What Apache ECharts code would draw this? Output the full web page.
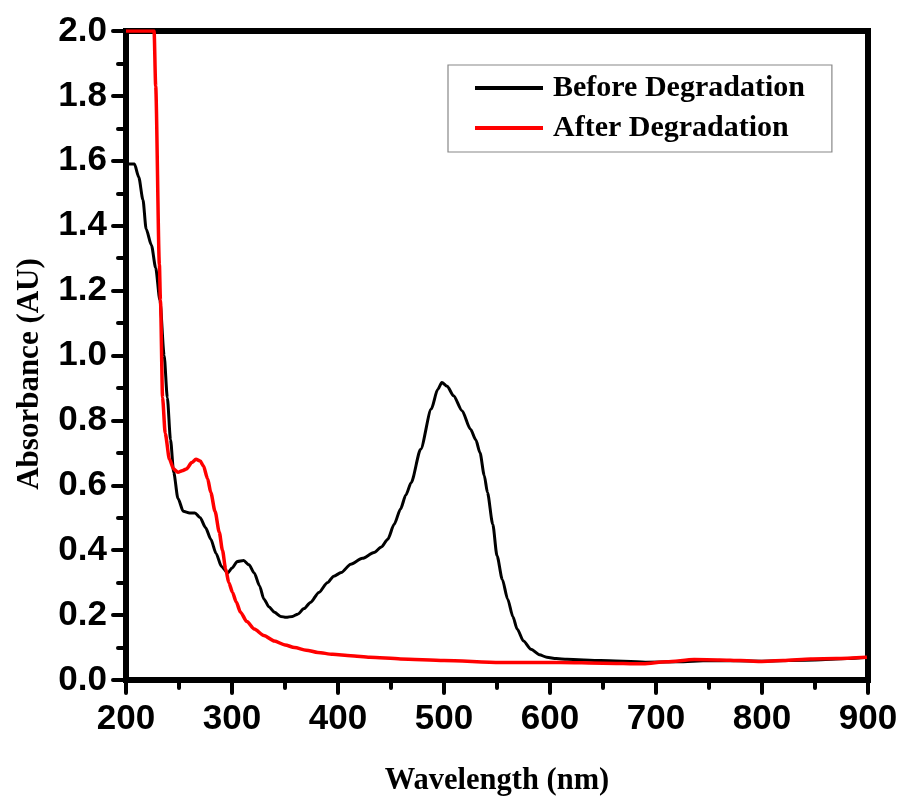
<!DOCTYPE html>
<html>
<head>
<meta charset="utf-8">
<script src="https://cdn.jsdelivr.net/npm/echarts@6/dist/echarts.min.js"></script>
<style>html,body{margin:0;padding:0;background:#fff}#c{width:898px;height:801px}</style>
</head>
<body>
<div id="c"></div>
<script>
// ---- data ----
var beforeWl = [200,208,212,216,219,224,228,232,236,239,242,245,249,254,260,265,270,275,280,285,290,296,300,305,311,316,321,326,330,335,340,346,351,357,362,368,374,382,390,396,403,412,423,434,441,447,453,459,464,469,478,488,494,498,503,509,517,525,530,534,538,541,546,550,555,560,565,569,575,582,590,597,606,616,648,690,720,750,800,850,880,900];
var beforeAbs = [1.59,1.59,1.55,1.48,1.39,1.34,1.27,1.17,1.00,0.87,0.74,0.64,0.56,0.52,0.515,0.515,0.50,0.47,0.434,0.39,0.35,0.33,0.345,0.365,0.368,0.355,0.33,0.29,0.25,0.225,0.209,0.196,0.193,0.196,0.203,0.22,0.239,0.27,0.30,0.32,0.331,0.357,0.375,0.393,0.41,0.434,0.48,0.527,0.57,0.608,0.711,0.835,0.895,0.917,0.905,0.876,0.83,0.773,0.74,0.70,0.63,0.578,0.48,0.383,0.31,0.25,0.195,0.157,0.12,0.095,0.078,0.07,0.066,0.064,0.06,0.055,0.056,0.06,0.058,0.062,0.066,0.07];
var afterWl = [200,226.5,228,231.5,232.5,234.5,237,241,245,249,253,257,262,266,270,273,277,280,284,288,291,294,297,300.5,304,308,314,321,330,340,350,359,370,381,395,412,430,459,500,553,610,650,688,710,736,760,780,798,820,846,870,899];
var afterAbs = [2.0,2.0,1.83,1.28,1.17,0.87,0.76,0.68,0.65,0.64,0.645,0.65,0.67,0.68,0.675,0.66,0.62,0.578,0.52,0.455,0.40,0.342,0.30,0.27,0.24,0.209,0.18,0.157,0.137,0.12,0.108,0.10,0.092,0.085,0.079,0.075,0.07,0.065,0.06,0.054,0.054,0.052,0.05,0.056,0.063,0.062,0.06,0.057,0.06,0.065,0.066,0.07];
var seriesNames = ['Before Degradation','After Degradation'];
var xTicks = [200,300,400,500,600,700,800,900];
var yTicks = [0.0,0.2,0.4,0.6,0.8,1.0,1.2,1.4,1.6,1.8,2.0];
var xTitle = 'Wavelength (nm)';
var yTitle = 'Absorbance (AU)';

function pairs(xs, ys){ return xs.map(function(x,i){ return [x, ys[i]]; }); }

var chart = echarts.init(document.getElementById('c'), null, {renderer:'canvas'});
var tickFont = {fontFamily:'"Liberation Sans Narrow","Arial Narrow","Liberation Sans",Arial,sans-serif', fontWeight:'bold', fontSize:35, color:'#000'};
var serif = '"Liberation Serif","Times New Roman",serif';
chart.setOption({
  animation:false,
  backgroundColor:'#fff',
  grid:{left:126, right:30, top:31, bottom:121, containLabel:false, outerBoundsMode:'none',
        show:true, borderColor:'#000', borderWidth:6, backgroundColor:'transparent'},
  legend:{
    data:seriesNames, orient:'vertical', left:448, top:65,
    padding:[8,27,9,27], itemGap:10, itemWidth:68, itemHeight:4, icon:'rect',
    borderColor:'#888', borderWidth:1.2, backgroundColor:'#fff',
    textStyle:{fontFamily:serif, fontWeight:'bold', fontSize:30, lineHeight:30, color:'#000', padding:[0,0,0,5]}
  },
  xAxis:{
    type:'value', min:xTicks[0], max:xTicks[xTicks.length-1], interval:100,
    name:xTitle, nameLocation:'middle', nameGap:86,
    nameTextStyle:{fontFamily:serif, fontWeight:'bold', fontSize:30.5, color:'#000'},
    axisLine:{onZero:false, lineStyle:{color:'#000', width:6}},
    axisTick:{length:13, lineStyle:{color:'#000', width:4, cap:'round'}},
    minorTick:{show:true, splitNumber:2, length:8, lineStyle:{color:'#000', width:4, cap:'round'}},
    splitLine:{show:false},
    axisLabel:Object.assign({margin:22}, tickFont)
  },
  yAxis:{
    type:'value', min:yTicks[0], max:yTicks[yTicks.length-1], interval:0.2,
    name:yTitle, nameLocation:'middle', nameGap:81, nameRotate:90,
    nameTextStyle:{fontFamily:serif, fontWeight:'bold', fontSize:31, color:'#000', padding:[0,37,0,0]},
    axisLine:{onZero:false, lineStyle:{color:'#000', width:6}},
    axisTick:{length:13, lineStyle:{color:'#000', width:4, cap:'round'}},
    minorTick:{show:true, splitNumber:2, length:8, lineStyle:{color:'#000', width:4, cap:'round'}},
    splitLine:{show:false},
    axisLabel:Object.assign({margin:19, formatter:function(v){return v.toFixed(1);}}, tickFont)
  },
  series:[
    {name:seriesNames[0], type:'line', data:pairs(beforeWl,beforeAbs), showSymbol:false, symbol:'none',
     smooth:0.25, smoothMonotone:'x', lineStyle:{color:'#000', width:3}, itemStyle:{color:'#000'}, z:3},
    {name:seriesNames[1], type:'line', data:pairs(afterWl,afterAbs), showSymbol:false, symbol:'none',
     smooth:0.25, smoothMonotone:'x', lineStyle:{color:'#ff0000', width:3.5}, itemStyle:{color:'#ff0000'}, z:4}
  ]
});
</script>
</body>
</html>
